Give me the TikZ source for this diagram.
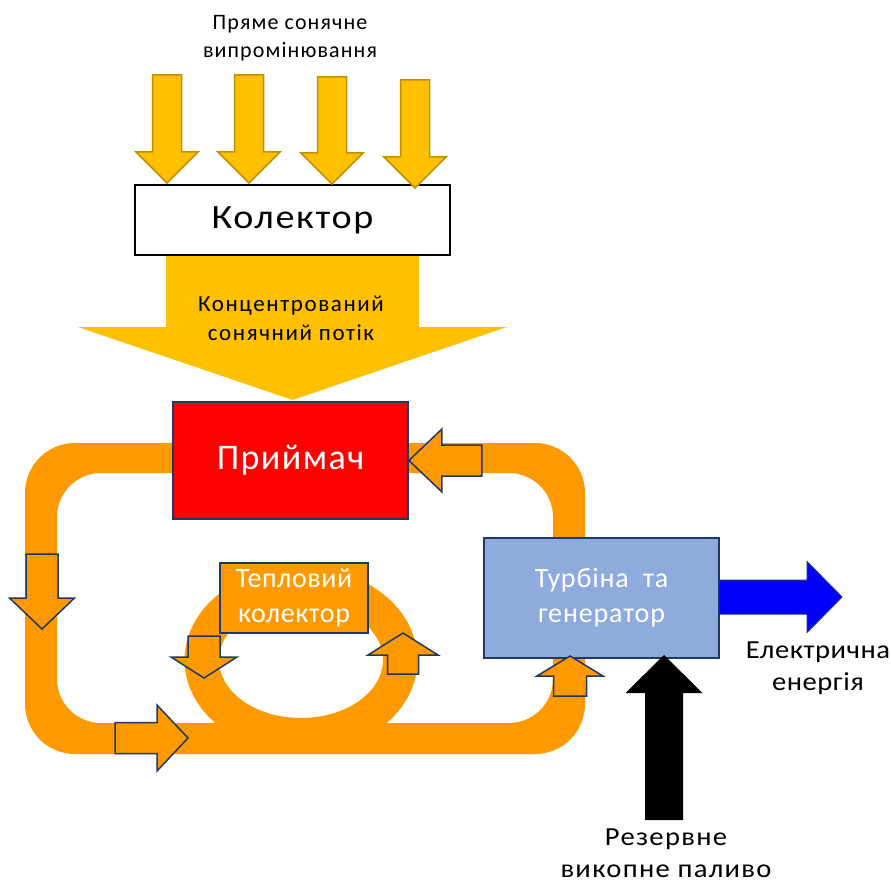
\documentclass[tikz,border=0pt]{standalone}
\usepackage{fontspec}
\setmainfont{Carlito}
\definecolor{sunyellow}{HTML}{FFC000}
\definecolor{sungold}{HTML}{BF9000}
\definecolor{pipeorange}{HTML}{FF9900}
\definecolor{edgenavy}{HTML}{1F3864}
\definecolor{turbblue}{HTML}{8FAADC}
% style, tip, direction, length, half shaft, half head, head length
\newcommand{\blockarrow}[7]{%
  \filldraw [#1, shift = {#2}, rotate = #3] (0,0) -- (-#7,#6) -- (-#7,#5)
  -- (-#4,#5) -- (-#4,-#5) -- (-#7,-#5) -- (-#7,-#6) -- cycle;}
\newcommand{\spaced}[3]{\fontsize{#1}{1.25\dimexpr#1pt\relax}\selectfont
  \addfontfeature{LetterSpace=#2, FakeStretch=#3}}

\begin{document}
\begin{tikzpicture}[x = 1pt, y = -1pt,
  box/.style = {rectangle, draw = edgenavy, line width = 1.8pt, align = center,
  text = white},
  label/.style = {align = center, inner sep = 1pt},
  sunarrow/.style = {fill = sunyellow, draw = sungold, line width = 1.5pt},
  flowarrow/.style = {fill = pipeorange, draw = edgenavy, line width = 1.5pt}]
  \useasboundingbox (0,0) rectangle (891,885);

  \fill [pipeorange, even odd rule] (301,660) ellipse [x radius = 116.5,
  y radius = 93] (301,660) ellipse [x radius = 82, y radius = 58];
  \fill [pipeorange, even odd rule, rounded corners = 50pt] (25,443) rectangle
  (585,754) [rounded corners = 44pt] (57,473) rectangle (553,723);

  \blockarrow{fill = sunyellow, draw = none}{(292.5,400)}{-90}{145}{126.5}{214.5}{73}

  \node [draw, line width = 1.5pt, minimum width = 315pt, minimum height = 70pt,
  font = \spaced{34}{5}{1.12}] (coll) at (292.5,220) {Колектор};
  \node [label, font = \spaced{22}{5}{1}] (sun) at (290,38)
  {Пряме сонячне\\випромінювання};
  \node [label, font = \spaced{23}{7}{1}] (flux) at (291,318)
  {Концентрований\\сонячний потік};

  \node [box, fill = red, minimum width = 235pt, minimum height = 117pt,
  font = \spaced{36}{4}{1}] (recv) at (290.5,460.5) {Приймач};
  \node [box, fill = pipeorange, minimum width = 148pt, minimum height = 70pt,
  font = \spaced{28}{2}{1}] (tcoll) at (294,598) {Тепловий\\колектор};
  \node [box, fill = turbblue, minimum width = 235pt, minimum height = 120pt,
  font = \spaced{28}{3}{1}] (turb) at (601.5,598) {Турбіна~~та\\генератор};
  \node [label, font = \spaced{26}{2}{1.1}] (elec) at (818,668)
  {Електрична\\енергія};
  \node [label, font = \spaced{26}{5}{1.1}] (fuel) at (666,853)
  {Резервне\\викопне паливо};

  \blockarrow{sunarrow}{(167,183)}{-90}{108}{14.5}{31}{31}
  \blockarrow{sunarrow}{(249,183)}{-90}{108}{14.5}{31}{31}
  \blockarrow{sunarrow}{(332,184)}{-90}{107}{14.5}{31}{31}
  \blockarrow{sunarrow}{(415,188)}{-90}{108}{14.5}{31}{31}

  \blockarrow{flowarrow}{(recv.east)}{180}{73}{15.5}{31.5}{33}
  \blockarrow{flowarrow}{(42,629)}{-90}{75}{16}{32.5}{31}
  \blockarrow{flowarrow}{(188,738)}{0}{73}{15.5}{33}{31}
  \blockarrow{flowarrow}{(204,678)}{-90}{42}{16}{33}{21}
  \blockarrow{flowarrow}{(403,633)}{90}{41}{15.5}{35}{22}
  \blockarrow{flowarrow}{(570,656)}{90}{40}{16.5}{33}{20}

  \blockarrow{fill = blue, draw = edgenavy, line width = 1pt}{(842,597)}{0}{123}{17}{35.5}{35}
  \blockarrow{fill = black, draw = none}{(664,655)}{90}{165}{19}{38.5}{38}
\end{tikzpicture}
\end{document}
